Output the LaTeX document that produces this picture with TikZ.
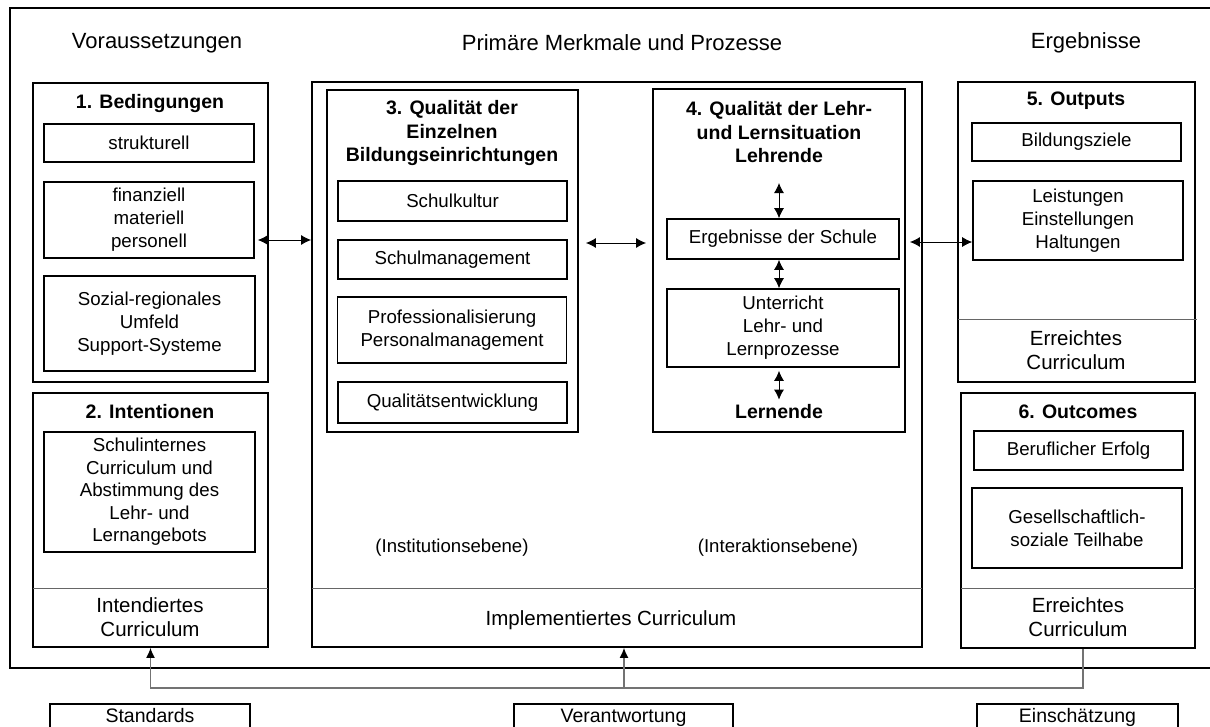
\documentclass[tikz,border=0pt]{standalone}
\usepackage{fontspec}
\setmainfont{Liberation Sans}
\usetikzlibrary{arrows.meta}

\begin{document}
\begin{tikzpicture}[x=1pt,y=-1pt,
		colbox/.style={draw, line width=1.8pt, inner sep=0pt},
		itembox/.style={draw, line width=1.6pt, inner sep=0pt, align=center, font=\fontsize{18.7}{23}\selectfont},
		boxtitle/.style={inner sep=0pt, align=center, font=\bfseries\fontsize{19.5}{23.5}\selectfont},
		headline/.style={inner sep=0pt, font=\fontsize{22}{26}\selectfont},
		curr/.style={inner sep=0pt, align=center, font=\fontsize{20.5}{24}\selectfont},
		level/.style={inner sep=0pt, font=\fontsize{18.6}{22}\selectfont},
		divider/.style={draw=black!60, line width=1pt},
		dblarrow/.style={{Latex[length=10pt,width=10pt]}-{Latex[length=10pt,width=10pt]}, line width=0.9pt},
		feed/.style={draw=black!55, line width=1.2pt},
		basebox/.style={draw, line width=1.6pt, anchor=north, inner ysep=5pt, text height=14pt, text depth=22pt, font=\fontsize{19.5}{23}\selectfont}]
		\useasboundingbox (0,0) rectangle (1210,726);
		\fill[white] (0,0) rectangle (1210,726);

		\node[headline] (hvor) at (157,43) {Voraussetzungen};
		\node[headline] (hpri) at (622,43) {Primäre Merkmale und Prozesse};
		\node[headline] (herg) at (1086,43) {Ergebnisse};
		\draw[line width=1.8pt] (10,8) rectangle (1218,668);

		% Bedingungen
		\node[colbox, minimum width=235pt, minimum height=299pt] (b1) at (150.5,232.5) {};
		\node[boxtitle] (t1) at (150,103) {1. Bedingungen};
		\node[itembox, minimum width=210pt, minimum height=38pt] (struk) at (149,143) {strukturell};
		\node[itembox, minimum width=210pt, minimum height=76pt] (fin) at (149,220) {finanziell\\materiell\\personell};
		\node[itembox, minimum width=211pt, minimum height=95pt] (soz) at (149.5,323.5) {Sozial-regionales\\Umfeld\\Support-Systeme};

		% Intentionen
		\node[colbox, minimum width=235pt, minimum height=254pt] (b2) at (150.5,520) {};
		\node[boxtitle] (t2) at (150,412) {2. Intentionen};
		\node[itembox, minimum width=211pt, minimum height=120pt, font=\fontsize{18.7}{22.5}\selectfont] (schul) at (149.5,492) {Schulinternes\\Curriculum und\\Abstimmung des\\Lehr- und\\Lernangebots};
		\draw[divider] (33,588) -- (268,588);
		\node[curr] (ic) at (150,617) {Intendiertes\\Curriculum};

		% Mitte
		\node[colbox, minimum width=610pt, minimum height=565pt] (bm) at (617,364.5) {};
		\draw[divider] (312,588) -- (922,588);
		\node[curr] (implc) at (611,620) {Implementiertes Curriculum};
		\node[level] (inst) at (452,548) {(Institutionsebene)};
		\node[level] (inter) at (778,548) {(Interaktionsebene)};

		\node[colbox, minimum width=251pt, minimum height=342pt] (b3) at (452.5,261) {};
		\node[boxtitle] (t3) at (452,133) {3. Qualität der\\Einzelnen\\Bildungseinrichtungen};
		\node[itembox, minimum width=229pt, minimum height=40pt] (kult) at (452.5,201) {Schulkultur};
		\node[itembox, minimum width=229pt, minimum height=39pt] (mgmt) at (452.5,259.5) {Schulmanagement};
		\node[itembox, minimum width=229pt, minimum height=66pt] (prof) at (452,330) {Professionalisierung\\Personalmanagement};
		\node[itembox, minimum width=229pt, minimum height=41pt] (qe) at (452.5,402.5) {Qualitätsentwicklung};

		\node[colbox, minimum width=252pt, minimum height=343pt] (b4) at (779,260.5) {};
		\node[boxtitle] (t4) at (779,132.5) {4. Qualität der Lehr-\\und Lernsituation\\Lehrende};
		\node[itembox, minimum width=232pt, minimum height=40pt] (erg) at (783,239) {Ergebnisse der Schule};
		\node[itembox, minimum width=232pt, minimum height=78pt] (unt) at (783,328) {Unterricht\\Lehr- und\\Lernprozesse};
		\node[boxtitle] (lern) at (779,412) {Lernende};
		\coordinate (a4) at (779,183);
		\draw[dblarrow] (a4) -- (a4 |- erg.north);
		\draw[dblarrow] (a4 |- erg.south) -- (a4 |- unt.north);
		\draw[dblarrow, shorten <=3pt, shorten >=5pt] (a4 |- unt.south) -- (lern.north);

		% Outputs
		\node[colbox, minimum width=237pt, minimum height=300pt] (b5) at (1076.5,232) {};
		\node[boxtitle] (t5) at (1076,101) {5. Outputs};
		\node[itembox, minimum width=209pt, minimum height=38pt] (ziele) at (1076.5,142) {Bildungsziele};
		\node[itembox, minimum width=210pt, minimum height=79pt] (lei) at (1078,220.5) {Leistungen\\Einstellungen\\Haltungen};
		\draw[divider] (958,319) -- (1197,319);
		\node[curr] (erc5) at (1076,350) {Erreichtes\\Curriculum};

		% Outcomes
		\node[colbox, minimum width=234pt, minimum height=255pt] (b6) at (1078,520.5) {};
		\node[boxtitle] (t6) at (1078,412) {6. Outcomes};
		\node[itembox, minimum width=209pt, minimum height=39pt] (beruf) at (1078.5,450.5) {Beruflicher Erfolg};
		\node[itembox, minimum width=210pt, minimum height=80pt] (teil) at (1077,528) {Gesellschaftlich-\\soziale Teilhabe};
		\draw[divider] (961,588) -- (1195,588);
		\node[curr] (erc6) at (1078,617) {Erreichtes\\Curriculum};

		% Verbindungen
		\draw[dblarrow, shorten <=3pt] ([yshift=-20pt]fin.east) -- ([yshift=-20pt]fin.east -| bm.west);
		\draw[dblarrow, shorten <=7pt, shorten >=6pt] ([yshift=18pt]b3.east) -- ([yshift=18pt]b3.east -| b4.west);
		\draw[dblarrow, shorten <=4pt] ([yshift=-21.5pt]lei.west -| b4.east) -- ([yshift=-21.5pt]lei.west);

		\coordinate (fb) at (624,688);
		\draw[feed, -{Latex[length=10pt,width=9pt,color=black]}] ([xshift=5pt]b6.south) |- (fb) -| (b2.south);
		\draw[feed, -{Latex[length=10pt,width=9pt,color=black]}] (fb) -- (fb |- bm.south);

		\node[basebox, minimum width=200pt] (std) at (150,703) {Standards};
		\node[basebox, minimum width=219pt] (verant) at (623.5,703) {Verantwortung};
		\node[basebox, minimum width=201pt] (einsch) at (1077.5,703) {Einschätzung};
	\end{tikzpicture}
\end{document}
